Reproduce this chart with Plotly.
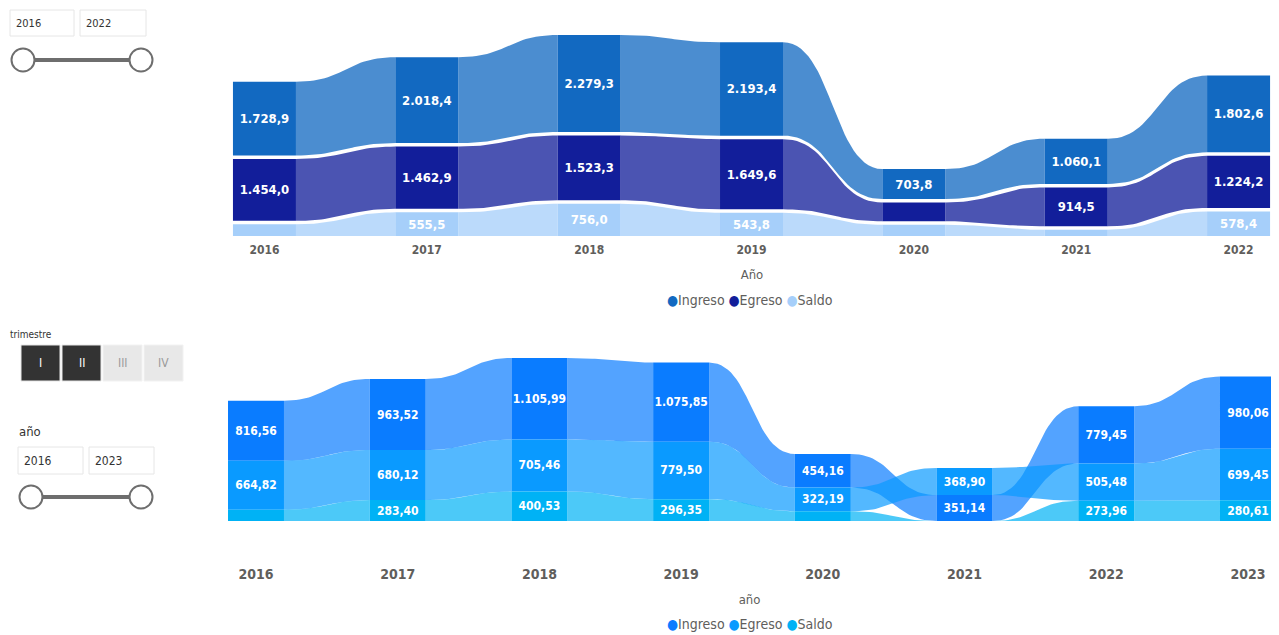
import numpy as np
import plotly.graph_objects as go

W, H = 1279, 635
OFF = 8  # default page body margin
FW, FH = W - OFF, H - OFF

# ---------------- DATA ----------------
series_names = ["Ingreso", "Egreso", "Saldo"]

years_top = ["2016", "2017", "2018", "2019", "2020", "2021", "2022"]
ingreso_top = [1728.9, 2018.4, 2279.3, 2193.4, 703.8, 1060.1, 1802.6]
egreso_top = [1454.0, 1462.9, 1523.3, 1649.6, 440.0, 914.5, 1224.2]
saldo_top = [274.9, 555.5, 756.0, 543.8, 263.8, 145.6, 578.4]

years_bot = ["2016", "2017", "2018", "2019", "2020", "2021", "2022", "2023"]
ingreso_bot = [816.56, 963.52, 1105.99, 1075.85, 454.16, 351.14, 779.45, 980.06]
egreso_bot = [664.82, 680.12, 705.46, 779.50, 322.19, 368.90, 505.48, 699.45]
saldo_bot = [151.74, 283.40, 400.53, 296.35, 131.97, -17.76, 273.96, 280.61]

# ---------------- STYLE ----------------
FONT = "DejaVu Sans Condensed, Roboto, sans-serif"
GRAY = "#605E5C"
colors_top = ["#1269C1", "#121E9A", "#A6CFFA"]
colors_bot = ["#0A7CFF", "#0A9AFF", "#00B2F5"]


def px_x(x):
    return (x - OFF) / FW


def px_y(y):
    return 1 - (y - OFF) / FH


def fmt_es(v, d):
    s = f"{v:,.{d}f}"
    return s.replace(",", "X").replace(".", ",").replace("X", ".")


def hex_rgba(h, a):
    h = h.lstrip("#")
    r, g, b = int(h[0:2], 16), int(h[2:4], 16), int(h[4:6], 16)
    return f"rgba({r},{g},{b},{a})"


def stack(series, gap):
    n = len(series[0])
    bots = [[0.0] * n for _ in series]
    tops = [[0.0] * n for _ in series]
    for i in range(n):
        vals = [max(s[i], 0.0) for s in series]
        order = sorted(range(len(vals)), key=lambda k: vals[k])
        y = 0.0
        for rank, k in enumerate(order):
            if rank > 0:
                y += gap
            bots[k][i] = y
            y += vals[k]
            tops[k][i] = y
    return bots, tops


def bez(x0, y0, x1, y1, m=30):
    t = np.linspace(0, 1, m)
    xm = (x0 + x1) / 2
    x = (1 - t) ** 3 * x0 + 3 * (1 - t) ** 2 * t * xm + 3 * (1 - t) * t ** 2 * xm + t ** 3 * x1
    y = (1 - t) ** 3 * y0 + 3 * (1 - t) ** 2 * t * y0 + 3 * (1 - t) * t ** 2 * y1 + t ** 3 * y1
    return list(x), list(y)


fig = go.Figure()


def add_ribbon_chart(series, years, colors, gap, width, alpha, xa, ya, decimals,
                     min_label, fsize):
    n = len(years)
    idx = list(range(n))
    bots, tops = stack(series, gap)
    # ribbons
    for k, s in enumerate(series):
        xs, ys = [], []
        for i in range(n - 1):
            xa0 = i + width / 2
            xa1 = i + 1 - width / 2
            tx, ty = bez(xa0, tops[k][i], xa1, tops[k][i + 1])
            bx, by = bez(xa1, bots[k][i + 1], xa0, bots[k][i])
            xs += tx + bx + [tx[0], None]
            ys += ty + by + [ty[0], None]
        fig.add_trace(go.Scatter(
            x=xs, y=ys, mode="lines", fill="toself",
            fillcolor=hex_rgba(colors[k], alpha), line=dict(width=0),
            hoverinfo="skip", showlegend=False, xaxis=xa, yaxis=ya))
    # columns
    for k, s in enumerate(series):
        heights = [tops[k][i] - bots[k][i] for i in range(n)]
        labels = [fmt_es(v, decimals) if v >= min_label else "" for v in s]
        fig.add_trace(go.Bar(
            x=idx, y=heights, base=bots[k], width=width,
            marker=dict(color=colors[k], line=dict(width=0)),
            text=labels, textposition="inside", insidetextanchor="middle",
            textangle=0, constraintext="none",
            textfont=dict(color="white", size=fsize, family=FONT, weight="bold"),
            hoverinfo="skip", showlegend=False, xaxis=xa, yaxis=ya))


# top chart: px/unit ~0.04256
top_scale = 0.04256
add_ribbon_chart([ingreso_top, egreso_top, saldo_top], years_top, colors_top,
                 gap=3.5 / top_scale, width=0.388, alpha=0.76, xa="x", ya="y",
                 decimals=1, min_label=500, fsize=13)

bot_scale = 0.07369
add_ribbon_chart([ingreso_bot, egreso_bot, saldo_bot], years_bot, colors_bot,
                 gap=0.0, width=0.395, alpha=0.70, xa="x2", ya="y2",
                 decimals=2, min_label=200, fsize=12)

top_y0, top_y1 = 236, 26
bot_y0, bot_y1 = 521, 350

fig.update_layout(
    width=FW, height=FH, margin=dict(l=0, r=0, t=0, b=0),
    paper_bgcolor="white", plot_bgcolor="white",
    barmode="overlay", showlegend=False,
    font=dict(family=FONT, color=GRAY),
    xaxis=dict(domain=[px_x(225), 1], range=[-0.243, 6.249],
               tickvals=list(range(len(years_top))), ticktext=years_top,
               showgrid=False, zeroline=False, showline=False, ticks="",
               tickfont=dict(size=12, color=GRAY, family=FONT, weight="bold"),
               ticklabelstandoff=5,
               title=dict(text="Año", font=dict(size=13, color=GRAY), standoff=13),
               anchor="y", fixedrange=True),
    yaxis=dict(domain=[px_y(top_y0), px_y(top_y1)],
               range=[0, (top_y0 - top_y1) / top_scale], visible=False,
               anchor="x", fixedrange=True),
    xaxis2=dict(domain=[px_x(220), 1], range=[-0.254, 7.219],
                tickvals=list(range(len(years_bot))), ticktext=years_bot,
                showgrid=False, zeroline=False, showline=False, ticks="",
                tickfont=dict(size=14, color=GRAY, family=FONT, weight="bold"),
                ticklabelstandoff=43,
                title=dict(text="año", font=dict(size=13, color=GRAY), standoff=13),
                anchor="y2", fixedrange=True),
    yaxis2=dict(domain=[px_y(bot_y0), px_y(bot_y1)],
                range=[0, (bot_y0 - bot_y1) / bot_scale], visible=False,
                anchor="x2", fixedrange=True),
)


def legend_text(colors):
    parts = []
    for c, nme in zip(colors, series_names):
        parts.append(f"<span style='color:{c}'>●</span>{nme}")
    return " ".join(parts)


annotations = [
    dict(x=px_x(750), y=px_y(300), xref="paper", yref="paper",
         text=legend_text(colors_top), showarrow=False,
         font=dict(size=14, color=GRAY, family=FONT), xanchor="center", yanchor="middle"),
    dict(x=px_x(750), y=px_y(624), xref="paper", yref="paper",
         text=legend_text(colors_bot), showarrow=False,
         font=dict(size=14, color=GRAY, family=FONT), xanchor="center", yanchor="middle"),
]

shapes = []


def rect(x0, y0, x1, y1, fill, line="#E6E6E6", lw=1):
    shapes.append(dict(type="rect", xref="paper", yref="paper",
                       x0=px_x(x0), x1=px_x(x1), y0=px_y(y1), y1=px_y(y0),
                       fillcolor=fill, line=dict(color=line, width=lw), layer="above"))


def circle(cx, cy, r):
    shapes.append(dict(type="circle", xref="paper", yref="paper",
                       x0=px_x(cx - r), x1=px_x(cx + r), y0=px_y(cy + r), y1=px_y(cy - r),
                       fillcolor="white", line=dict(color="#6E6E6E", width=2), layer="above"))


def hline(x0, x1, y):
    shapes.append(dict(type="line", xref="paper", yref="paper",
                       x0=px_x(x0), x1=px_x(x1), y0=px_y(y), y1=px_y(y),
                       line=dict(color="#6E6E6E", width=4), layer="above"))


def label(x, y, txt, size, color="#333333", anchor="left"):
    annotations.append(dict(x=px_x(x), y=px_y(y), xref="paper", yref="paper",
                            text=txt, showarrow=False, xanchor=anchor, yanchor="middle",
                            font=dict(size=size, color=color, family=FONT)))


# top-left slicer
rect(10, 10, 74, 36, "white")
rect(80, 10, 146, 36, "white")
label(14, 23, "2016", 11)
label(84, 23, "2022", 11)
hline(34, 130, 60)
circle(23, 60, 11.5)
circle(141, 60, 11.5)

# trimestre slicer
label(8, 335, "trimestre", 10)
rect(21, 345, 60, 381, "#333333", line="#E6E6E6")
rect(62, 345, 101, 381, "#333333", line="#E6E6E6")
rect(103, 345, 142, 381, "#E8E8E8", line="#F2F2F2")
rect(144, 345, 183, 381, "#E8E8E8", line="#F2F2F2")
label(40.5, 363, "I", 12, "white", "center")
label(81.5, 363, "II", 12, "white", "center")
label(122.5, 363, "III", 12, "#9A9A9A", "center")
label(163.5, 363, "IV", 12, "#9A9A9A", "center")

# año slicer
label(17, 431, "año", 13)
rect(18, 447, 83, 474, "white")
rect(89, 447, 154, 474, "white")
label(22, 460.5, "2016", 12)
label(93, 460.5, "2023", 12)
hline(42, 130, 497)
circle(31, 497, 11.5)
circle(141, 497, 11.5)

fig.update_layout(annotations=annotations, shapes=shapes)

fig.write_html("out.html")
